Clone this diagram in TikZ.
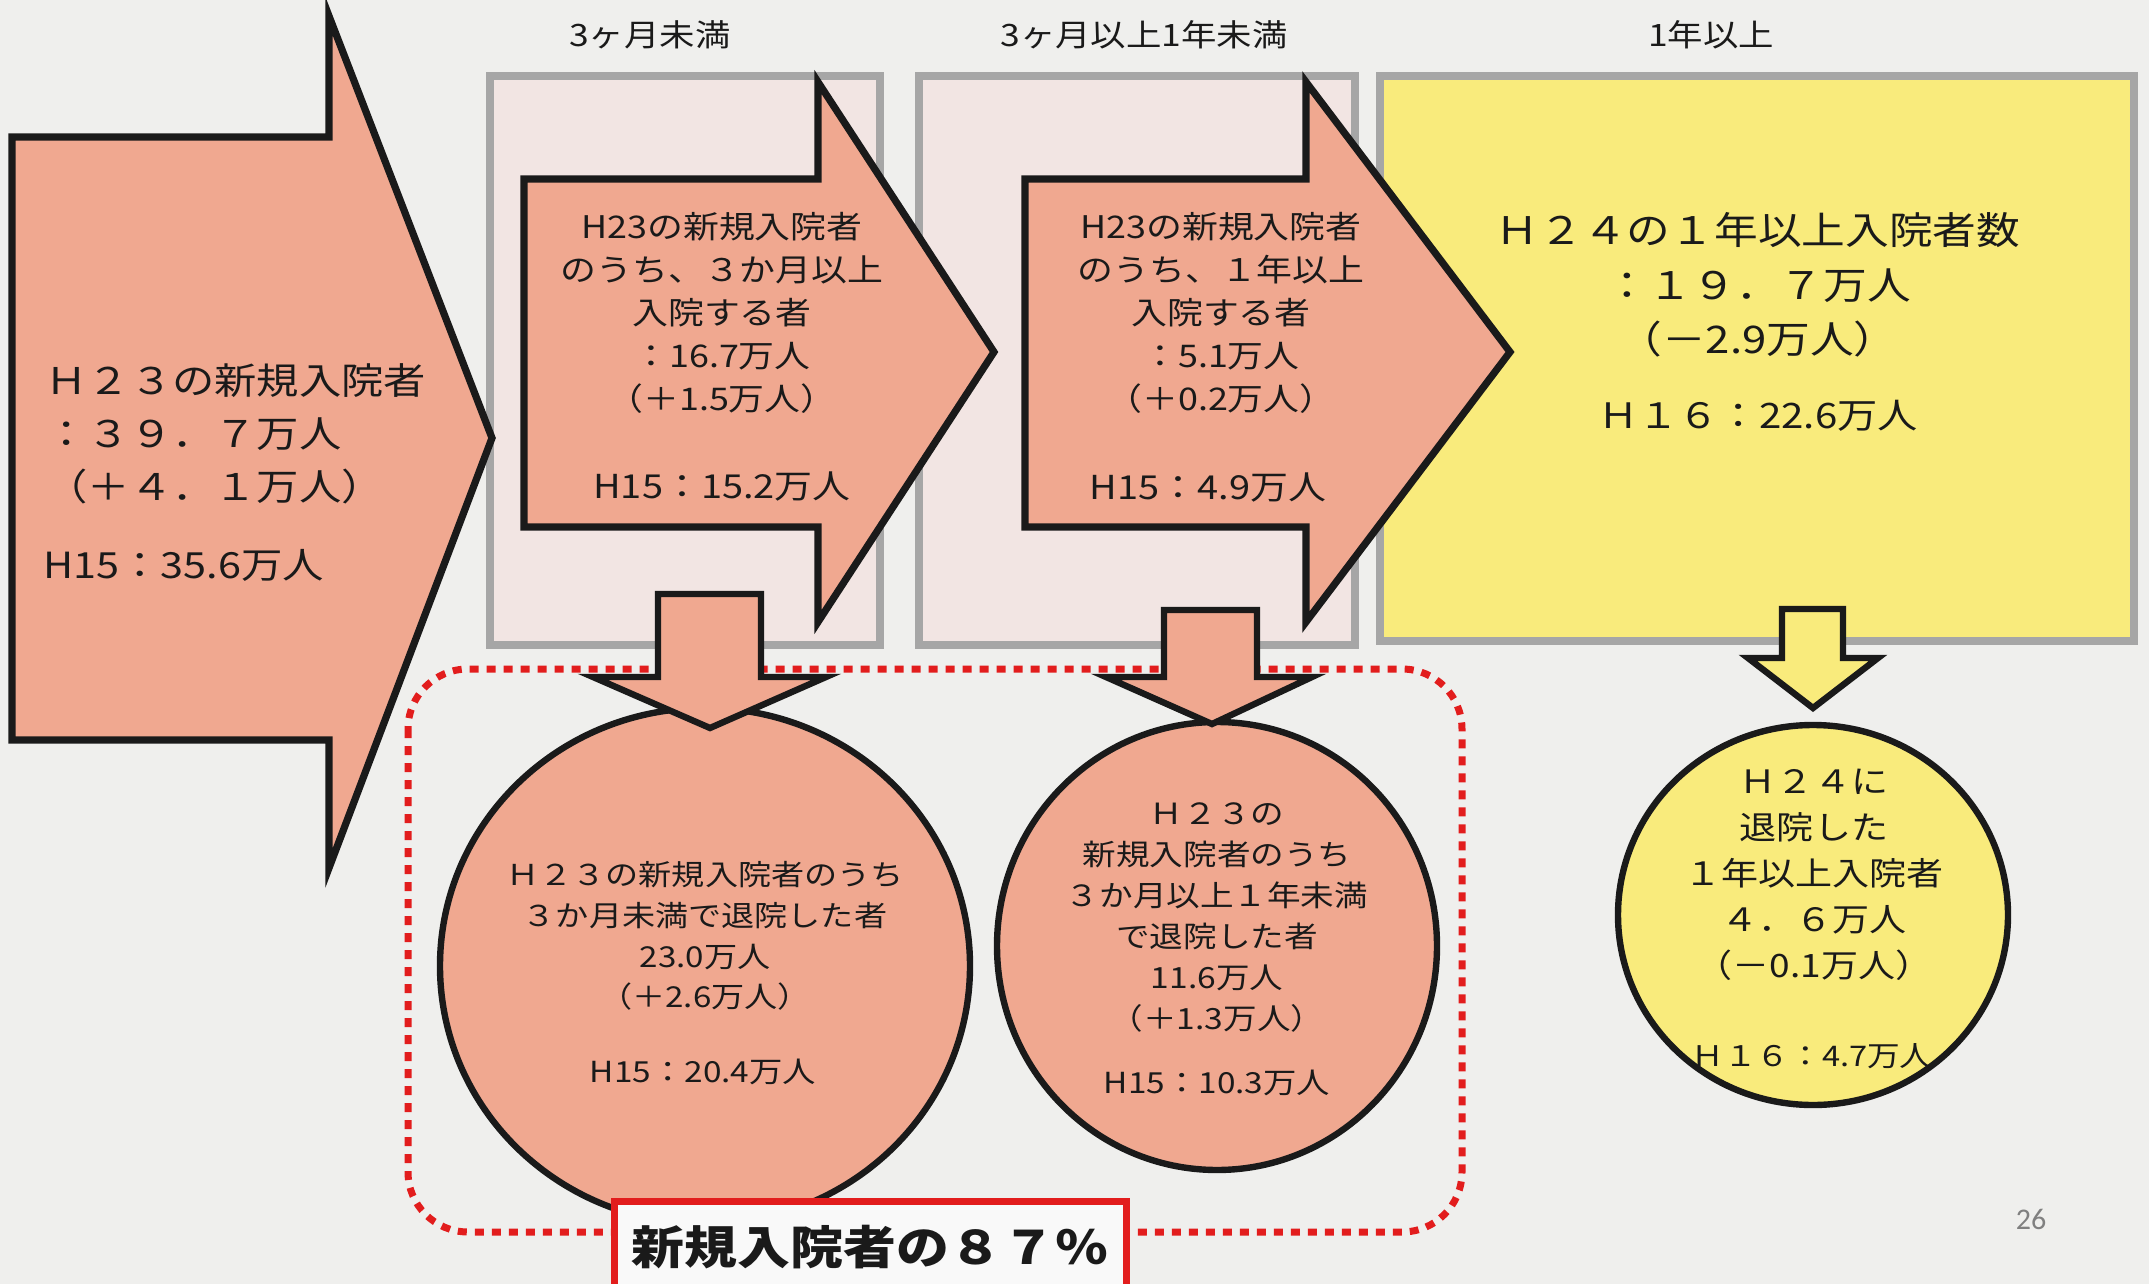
\documentclass[tikz,border=0pt]{standalone}
\usepackage{fontspec}
\setmainfont{Noto Sans CJK JP}[FakeStretch=1.15]
\newfontfamily\pagenumfont{Carlito}
\definecolor{bg}{HTML}{EFEFED}
\definecolor{salmon}{HTML}{F0A890}
\definecolor{boxpink}{HTML}{F2E5E3}
\definecolor{boxgray}{HTML}{A6A6A6}
\definecolor{yel}{HTML}{F9EB7C}
\definecolor{redd}{HTML}{E21D1D}
\definecolor{ink}{HTML}{1A1A1A}
\begin{document}
\begin{tikzpicture}[x=0.5pt,y=-0.5pt,
  txt/.style={inner sep=0pt, align=center, text=ink},
  fs/.style n args={2}{font=\fontsize{#1}{#2}\selectfont},
  graybox/.style={draw=boxgray, line width=4pt, fill=boxpink},
  yelbox/.style={draw=boxgray, line width=4pt, fill=yel},
  bigarrow/.style={draw=ink, line width=3.6pt, fill=salmon, line join=miter},
  downarrow/.style={draw=ink, line width=3.2pt, line join=miter},
  bubble/.style={draw=ink, line width=3.2pt},
  dotframe/.style={draw=redd, line width=3.5pt, dash pattern=on 4.5pt off 4pt, rounded corners=30pt},
  redbox/.style={draw=redd, line width=3.5pt, fill=white!95!gray}]
\useasboundingbox (0,0) rectangle (2149,1284);
\fill[bg] (0,0) rectangle (2149,1284);
\clip (0,0) rectangle (2149,1284);

% column boxes
\path[graybox] (490,76) rectangle (880,645);
\path[graybox] (919,76) rectangle (1355,645);
\path[yelbox] (1380,76) rectangle (2134,641);

% dotted frame
\path[dotframe] (408,669) rectangle (1462,1232);

% big arrow
\path[bigarrow] (12,137) -- (329,137) -- (329,16) -- (492,438) -- (329,868) -- (329,740) -- (12,740) -- cycle;
% arrow 2
\path[bigarrow] (524,179) -- (818,179) -- (818,82) -- (994,352) -- (818,622) -- (818,527) -- (524,527) -- cycle;
% arrow 3
\path[bigarrow] (1025,179) -- (1306,179) -- (1306,82) -- (1510,352) -- (1306,622) -- (1306,527) -- (1025,527) -- cycle;

% bubbles
\path[bubble, fill=salmon] (705,966) ellipse [x radius=265, y radius=258];
\path[bubble, fill=salmon] (1217,946) ellipse [x radius=220, y radius=224];
\path[bubble, fill=yel] (1813,915) ellipse [x radius=195, y radius=190];

% down arrows
\path[downarrow, fill=salmon] (658,594) -- (761,594) -- (761,677) -- (826,677) -- (710,728) -- (593,677) -- (658,677) -- cycle;
\path[downarrow, fill=salmon] (1164,610) -- (1257,610) -- (1257,677) -- (1312,677) -- (1212,724) -- (1106,677) -- (1164,677) -- cycle;
\path[downarrow, fill=yel] (1782,609) -- (1843,609) -- (1843,658) -- (1878,658) -- (1813,708) -- (1748,658) -- (1782,658) -- cycle;

% red box
\path[redbox] (614,1201) rectangle (1126,1310);

% column labels
\node[txt, fs={15.4}{18}] (lab1) at (650,35) {3ヶ月未満};
\node[txt, fs={15.4}{18}] (lab2) at (1144,35) {3ヶ月以上1年未満};
\node[txt, fs={15.4}{18}] (lab3) at (1711,35) {1年以上};

% big arrow text
\node[txt, anchor=west, align=left, fs={18.4}{26.5}] (a1t) at (45,434) {Ｈ２３の新規入院者\\：３９．７万人\\（＋４．１万人）};
\node[txt, anchor=west, fs={18}{20}] (a1h) at (43,565) {H15：35.6万人};

% arrow 2 text
\node[txt, fs={15.6}{21.5}] (a2t) at (722,313) {H23の新規入院者\\のうち、３か月以上\\入院する者\\：16.7万人\\（＋1.5万人）};
\node[txt, fs={16.5}{20}] (a2h) at (722,487) {H15：15.2万人};

% arrow 3 text
\node[txt, fs={15.6}{21.5}] (a3t) at (1221,313) {H23の新規入院者\\のうち、１年以上\\入院する者\\：5.1万人\\（＋0.2万人）};
\node[txt, fs={16.5}{20}] (a3h) at (1208,488) {H15：4.9万人};

% yellow box text
\node[txt, fs={19}{27.25}] (yt) at (1758,285) {Ｈ２４の１年以上入院者数\\：１９．７万人\\（－2.9万人）};
\node[txt, fs={17.5}{20}] (yh) at (1758,416) {Ｈ１６：22.6万人};

% bubble texts
\node[txt, fs={14.4}{20.3}] (e1t) at (705,936) {Ｈ２３の新規入院者のうち\\３か月未満で退院した者\\23.0万人\\（＋2.6万人）};
\node[txt, fs={14.5}{18}] (e1h) at (703,1072) {H15：20.4万人};

\node[txt, fs={14.6}{20.5}] (e2t) at (1217,917) {Ｈ２３の\\新規入院者のうち\\３か月以上１年未満\\で退院した者\\11.6万人\\（＋1.3万人）};
\node[txt, fs={14.5}{18}] (e2h) at (1217,1083) {H15：10.3万人};

\node[txt, fs={16.1}{23}] (e3t) at (1814,875) {Ｈ２４に\\退院した\\１年以上入院者\\４．６万人\\（－0.1万人）};
\node[txt, fs={14.2}{18}] (e3h) at (1812,1056) {Ｈ１６：4.7万人};

% red box text
\node[txt, font={\fontsize{23}{28}\selectfont\bfseries}] (share) at (870,1247) {新規入院者の８７％};

% page number
\node[txt, text=gray, font=\pagenumfont\fontsize{15}{18}\selectfont] (pg) at (2031,1219) {26};
\end{tikzpicture}
\end{document}
